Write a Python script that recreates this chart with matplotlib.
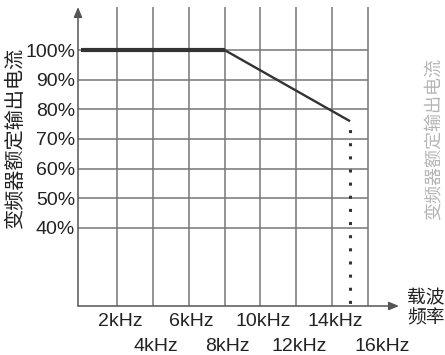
# 载波频率 vs 变频器额定输出电流 (derating curve)

import matplotlib
matplotlib.use("Agg")
import matplotlib.pyplot as plt
from matplotlib import transforms

plt.rcParams['font.family'] = ['Liberation Sans', 'Noto Sans CJK SC', 'DejaVu Sans']

# data
freq_khz = [0, 8, 15]            # curve break points
current_pct = [100, 100, 76]     # rated output current (%)
x_ticks = [2, 4, 6, 8, 10, 12, 14, 16]
x_labels = ["2kHz", "4kHz", "6kHz", "8kHz", "10kHz", "12kHz", "14kHz", "16kHz"]
y_ticks = [40, 50, 60, 70, 80, 90, 100]
y_labels = ["40%", "50%", "60%", "70%", "80%", "90%", "100%"]

ylabel = "变频器额定输出电流"
xlabel = "载波\n频率"

W, H = 445, 355
fig = plt.figure(figsize=(W / 100, H / 100), dpi=100)
ax = fig.add_axes([78 / W, (H - 306) / H, (399 - 78) / W, (306 - 7) / H])

x0, x1 = -0.17, 17.73
y0, y1 = 13.7, 114.5
ax.set_xlim(x0, x1)
ax.set_ylim(y0, y1)

grid_c = "#777777"
ax.hlines(y_ticks, x0, x_ticks[-1], color=grid_c, lw=1.1, zorder=1)
ax.vlines(x_ticks, y0, y1, color=grid_c, lw=1.1, zorder=1)

# axes with arrows
for s in ax.spines.values():
    s.set_visible(False)
ax.annotate("", xy=(x0, y1), xytext=(x0, y0),
            arrowprops=dict(arrowstyle="-|>,head_length=0.6,head_width=0.25",
                            color="#555555", lw=1.1, shrinkA=0, shrinkB=0),
            annotation_clip=False, zorder=3)
ax.annotate("", xy=(x1, y0), xytext=(x0, y0),
            arrowprops=dict(arrowstyle="-|>,head_length=0.6,head_width=0.25",
                            color="#555555", lw=1.1, shrinkA=0, shrinkB=0),
            annotation_clip=False, zorder=3)

# curve
curve_c = "#333333"
ax.plot(freq_khz[:2], current_pct[:2], color=curve_c, lw=3.0,
        solid_capstyle="butt", zorder=4)
ax.plot(freq_khz[1:], current_pct[1:], color=curve_c, lw=1.7,
        solid_capstyle="butt", zorder=4)
ax.plot([freq_khz[-1], freq_khz[-1]], [current_pct[-1], y0], color=curve_c,
        lw=2.2, linestyle=(1.5, (1, 3.3)), zorder=4)

# y tick labels
ax.set_yticks(y_ticks)
ax.set_yticklabels(y_labels, fontsize=14, color="#222222")
ax.tick_params(axis="y", length=0, pad=2)
ax.set_xticks([])

# x tick labels in two staggered rows
trans = transforms.blended_transform_factory(ax.transData, fig.transFigure)
for i, (xv, lab) in enumerate(zip(x_ticks, x_labels)):
    ypix = 321 if i % 2 == 0 else 346.5
    off = 14 if lab == "16kHz" else 3
    t = transforms.offset_copy(trans, fig=fig, x=off * 0.72, y=0, units="points")
    ax.text(xv, 1 - ypix / H, lab, transform=t, ha="center", va="center",
            fontsize=14, color="#222222")

fig.text(15 / W, 1 - 137 / H, ylabel, rotation=90, ha="center", va="center",
         fontsize=14.5, color="#222222")
fig.text(407 / W, 1 - 309 / H, xlabel, ha="left", va="center",
         fontsize=13.5, color="#222222", linespacing=1.2)
# faint show-through of the label on the right edge
fig.text(435 / W, 1 - 139 / H, ylabel, rotation=90, ha="center", va="center",
         fontsize=13, color="#b5b5b5")

fig.savefig("out.png", dpi=100)
